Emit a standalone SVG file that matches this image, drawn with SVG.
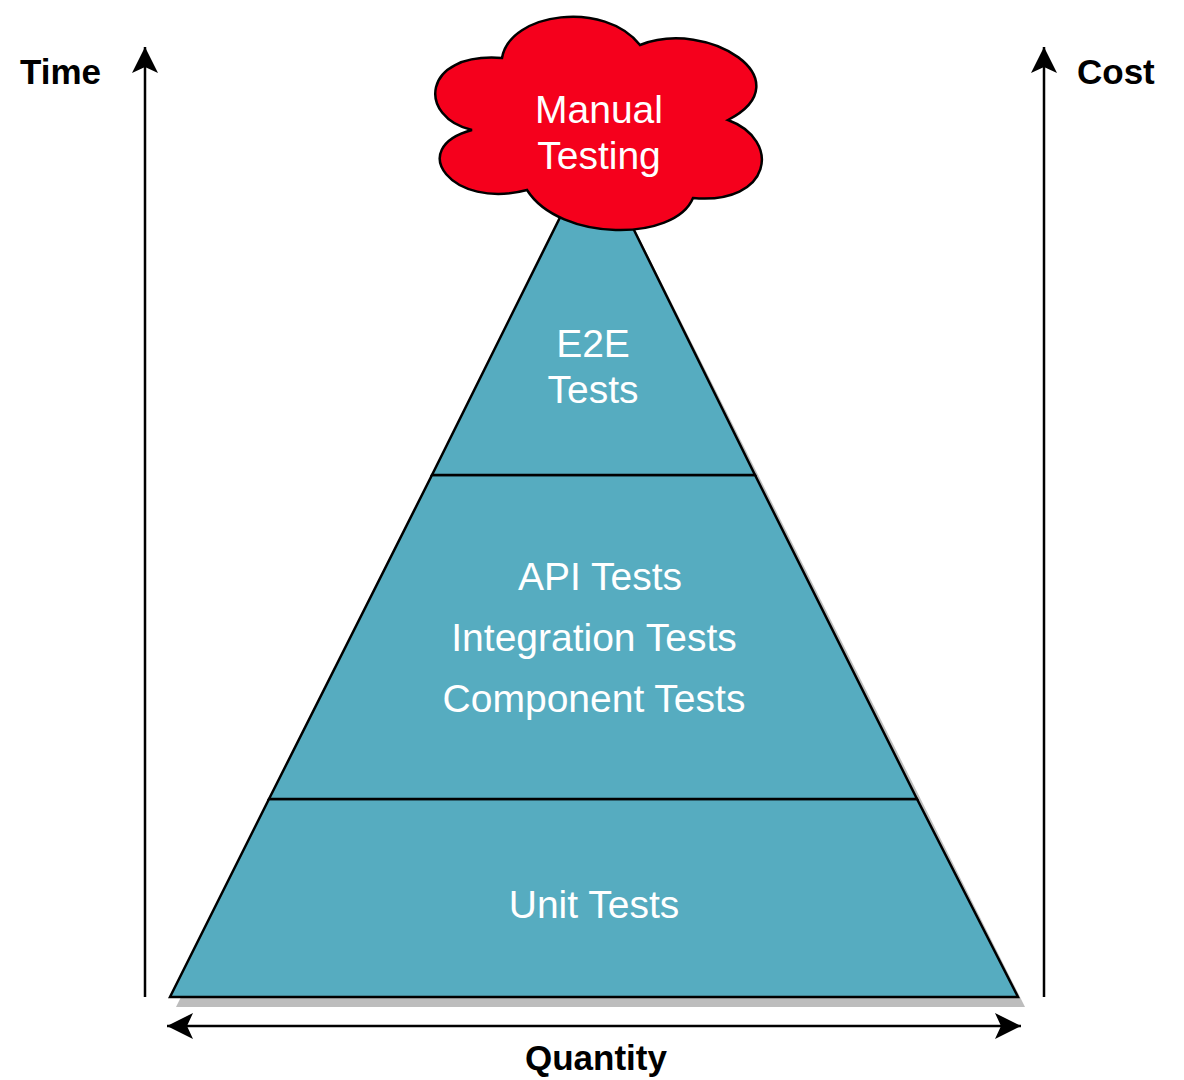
<svg xmlns="http://www.w3.org/2000/svg" width="1184" height="1080" viewBox="0 0 1184 1080">
<style>
.layer{fill:#56acc0;stroke:#000;stroke-width:2.5;stroke-linejoin:miter}
.lbl{font-family:"Liberation Sans",Arial,sans-serif;font-size:39px;fill:#fff;text-anchor:middle}
.axis{font-family:"Liberation Sans",Arial,sans-serif;font-size:35px;font-weight:bold;fill:#000}
.conn{stroke:#000;stroke-width:2.5;fill:none}
</style>
<defs>
<marker id="ah" markerUnits="userSpaceOnUse" markerWidth="30" markerHeight="30" viewBox="-28 -15 30 30" refX="0" refY="0" orient="auto-start-reverse">
<path d="M0,0 L-26,-13 L-20,0 L-26,13 Z" fill="#000"/>
</marker>
</defs>
<rect width="1184" height="1080" fill="#fff"/>
<polygon points="599,158 1025,1007 176,1007" fill="#bdbdbd"/>
<g id="unit-tests">
<polygon class="layer" points="269,799 917,799 1018,997 170,997"/>
<text class="lbl" x="594" y="918">Unit Tests</text>
</g>
<g id="middle-tests">
<polygon class="layer" points="432,475 755,475 917,799 269,799"/>
<text class="lbl" x="600" y="590">API Tests</text>
<text class="lbl" x="594" y="651">Integration Tests</text>
<text class="lbl" x="594" y="712">Component Tests</text>
</g>
<g id="e2e-tests">
<polygon class="layer" points="594,149 755,475 432,475"/>
<text class="lbl" x="593" y="357">E2E</text>
<text class="lbl" x="593" y="403">Tests</text>
</g>
<g id="manual-testing">
<path d="M502,58 C510,12 605,0 640,45 C708,18 805,80 728,120 C782,140 772,205 693,198 C675,242 560,242 527,190 C452,210 405,148 472,130 C418,118 420,52 502,58 Z" fill="#f5001c" stroke="#000" stroke-width="2.5"/>
<text class="lbl" x="599" y="123">Manual</text>
<text class="lbl" x="599" y="169">Testing</text>
</g>
<g id="connectors">
<line class="conn" x1="145" y1="997" x2="145" y2="47" marker-end="url(#ah)"/>
<line class="conn" x1="1044" y1="997" x2="1044" y2="47" marker-end="url(#ah)"/>
<line class="conn" x1="167" y1="1026" x2="1021" y2="1026" marker-start="url(#ah)" marker-end="url(#ah)"/>
</g>
<g id="labels">
<text class="axis" x="20" y="84">Time</text>
<text class="axis" x="1077" y="84">Cost</text>
<text class="axis" x="596" y="1070" text-anchor="middle">Quantity</text>
</g>
</svg>
